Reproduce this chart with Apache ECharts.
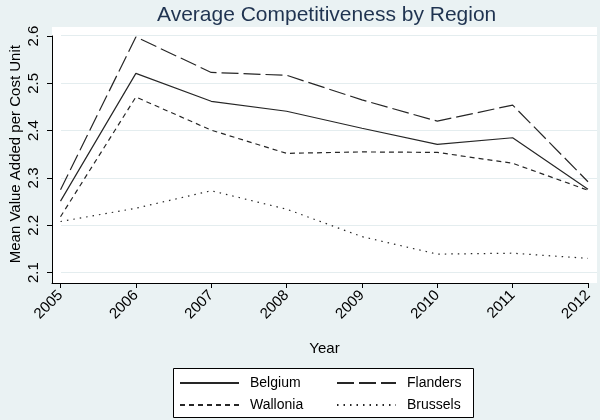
<!DOCTYPE html>
<html>
<head>
<meta charset="utf-8">
<script src="https://cdn.jsdelivr.net/npm/echarts@6/dist/echarts.min.js"></script>
<style>html,body{margin:0;padding:0;background:#eaf2f3;}#c{width:600px;height:420px;}</style>
</head>
<body>
<div id="c"></div>
<script>
const years = [2005, 2006, 2007, 2008, 2009, 2010, 2011, 2012];
const belgium  = [2.251, 2.521, 2.462, 2.441, 2.405, 2.371, 2.385, 2.276];
const flanders = [2.275, 2.598, 2.523, 2.517, 2.465, 2.420, 2.454, 2.292];
const wallonia = [2.218, 2.471, 2.401, 2.352, 2.355, 2.354, 2.331, 2.274];
const brussels = [2.208, 2.236, 2.273, 2.234, 2.176, 2.139, 2.141, 2.130];
const yTicks = [2.1, 2.2, 2.3, 2.4, 2.5, 2.6];
const seriesNames = ['Belgium', 'Flanders', 'Wallonia', 'Brussels'];

const FONT = 'Liberation Sans, Arial, sans-serif';
const LINE = '#262626';
const pairs = arr => years.map((y, i) => [y, arr[i]]);

const lineStyles = {
  Belgium: { type: 'solid' },
  Flanders: { type: [17, 5] },
  Wallonia: { type: [5, 4] },
  Brussels: { type: [1.5, 5] }
};
const dataMap = { Belgium: belgium, Flanders: flanders, Wallonia: wallonia, Brussels: brussels };

const legendBase = {
  orient: 'vertical', top: 376,
  itemWidth: 59, itemHeight: 14, itemGap: 8, padding: 0, z: 5,
  itemStyle: { color: 'transparent', borderWidth: 0, opacity: 0 },
  textStyle: { fontFamily: FONT, fontSize: 14, color: '#000', padding: [0, 0, 0, 6] }
};

const chart = echarts.init(document.getElementById('c'), null, { renderer: 'canvas' });
chart.setOption({
  backgroundColor: '#eaf2f3',
  animation: false,
  title: {
    text: 'Average Competitiveness by Region',
    left: 152, top: 0,
    textStyle: { fontFamily: FONT, fontSize: 21, fontWeight: 'normal', color: '#1f3350' }
  },
  graphic: [{
    type: 'rect', left: 173, top: 368, z: 1,
    shape: { width: 300, height: 49 },
    style: { fill: '#fff', stroke: '#000', lineWidth: 1 }
  }],
  legend: [
    Object.assign({ data: ['Belgium', 'Wallonia'], left: 179 }, legendBase),
    Object.assign({ data: ['Flanders', 'Brussels'], left: 336 }, legendBase)
  ],
  grid: [
    { left: 52, right: 3, top: 27, bottom: 137, show: true, backgroundColor: '#fff', borderWidth: 0, containLabel: false },
    { left: 52, right: 3, top: 35.7, height: 237, containLabel: false },
    { left: 52, right: 12, top: 36, bottom: 137, containLabel: false }
  ],
  xAxis: [
    {
      gridIndex: 0, type: 'value', min: 0, max: 1,
      axisLine: { show: false }, axisTick: { show: false }, axisLabel: { show: false }, splitLine: { show: false },
      name: 'Year', nameLocation: 'middle', nameGap: 58,
      nameTextStyle: { fontFamily: FONT, fontSize: 15, color: '#000' }
    },
    {
      gridIndex: 1, type: 'value', min: 0, max: 1, show: false
    },
    {
      gridIndex: 2, type: 'value', min: 2004.887, max: 2012,
      axisLine: { show: true, lineStyle: { color: '#000', width: 1 } },
      axisTick: { show: true, length: 5, customValues: years, lineStyle: { color: '#000' } },
      axisLabel: {
        customValues: years, rotate: 45, margin: 10,
        fontFamily: FONT, fontSize: 15, color: '#000',
        formatter: v => String(Math.round(v))
      },
      splitLine: { show: false }
    }
  ],
  yAxis: [
    {
      gridIndex: 0, type: 'value', min: 0, max: 1, show: false
    },
    {
      gridIndex: 1, type: 'value', min: 2.1, max: 2.6, interval: 0.1,
      axisLine: { show: false }, axisTick: { show: false }, axisLabel: { show: false },
      splitLine: { show: true, lineStyle: { color: '#e4edef', width: 1 } },
      name: 'Mean Value Added per Cost Unit', nameLocation: 'middle', nameGap: 38,
      nameTextStyle: { fontFamily: FONT, fontSize: 15, color: '#000' }
    },
    {
      gridIndex: 2, type: 'value', min: 2.078, max: 2.6,
      axisLine: { show: true, lineStyle: { color: '#000', width: 1 } },
      axisTick: { show: true, length: 5, customValues: yTicks, lineStyle: { color: '#000' } },
      axisLabel: {
        customValues: yTicks, rotate: 90, margin: 11,
        fontFamily: FONT, fontSize: 15, color: '#000',
        formatter: v => v.toFixed(1)
      },
      splitLine: { show: false }
    }
  ],
  series: seriesNames.map(name => ({
    name, type: 'line', xAxisIndex: 2, yAxisIndex: 2,
    data: pairs(dataMap[name]),
    symbol: 'none', smooth: false, z: 3,
    lineStyle: Object.assign({ color: LINE, width: 1.2 }, lineStyles[name]),
    itemStyle: { color: LINE }
  }))
});
</script>
</body>
</html>
